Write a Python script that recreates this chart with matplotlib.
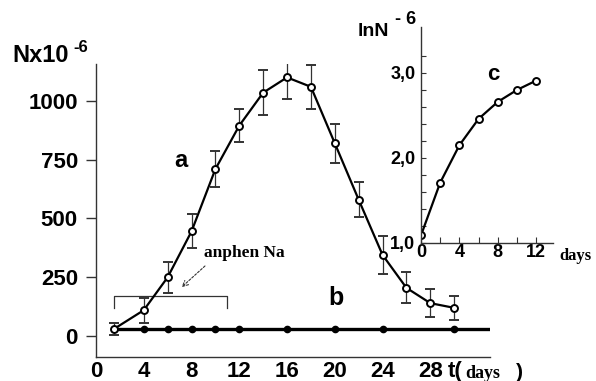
import numpy as np
import matplotlib
matplotlib.use("Agg")
from matplotlib import pyplot as plt
from matplotlib.ticker import FixedLocator

# curve a: cell count with error bars
days_a = [1.5, 4, 6, 8, 10, 12, 14, 16, 18, 20, 22, 24, 26, 28, 30]
count_a = [30, 110, 250, 445, 710, 895, 1035, 1100, 1060, 820, 580, 345, 205, 140, 120]
err_a = [27, 53, 66, 72, 77, 70, 95, 90, 94, 83, 74, 81, 66, 60, 51]

# curve b: with anphen Na
days_b = [1.5, 4, 6, 8, 10, 12, 16, 20, 24, 30, 33]
count_b = [30, 30, 30, 30, 30, 30, 30, 30, 30, 30, 30]
dots_b = [4, 6, 8, 10, 12, 16, 20, 24, 30]

# inset c: lnN
days_c = [0, 2, 4, 6, 8, 10, 12]
ln_c = [1.09, 1.71, 2.15, 2.46, 2.66, 2.80, 2.91]

y_ticks = [0, 250, 500, 750, 1000]
x_ticks = [0, 4, 8, 12, 16, 20, 24, 28]
c_yticks = [1.0, 2.0, 3.0]
c_ylabels = ["1,0", "2,0", "3,0"]
c_xticks = [0, 4, 8, 12]

W, H = 596, 381
SANS = "Liberation Sans"
SERIF = "Liberation Serif"

fig = plt.figure(figsize=(W / 100, H / 100), dpi=100)

def px(x0, y0, x1, y1):
    return [x0 / W, 1 - y1 / H, (x1 - x0) / W, (y1 - y0) / H]

ax = fig.add_axes(px(96, 64, 490, 357))
ax.set_xlim(0, 33)
ax.set_ylim(-89, 1157)
for s in ["top", "right"]:
    ax.spines[s].set_visible(False)
for s in ["left", "bottom"]:
    ax.spines[s].set_linewidth(1.0)
    ax.spines[s].set_color("#333333")

ax.errorbar(days_a, count_a, yerr=err_a, color="black", lw=1.6, ecolor="#333333",
            elinewidth=0.9, capsize=3.5, capthick=0.9, marker="o", ms=5,
            mfc="white", mec="black", mew=1.4, zorder=3)
ax.plot(days_b, count_b, color="black", lw=2.4, zorder=2)
ax.plot(dots_b, [count_b[0]] * len(dots_b), "o", color="black", ms=4.5, zorder=2)

ax.set_yticks(y_ticks)
ax.set_yticklabels([str(v) for v in y_ticks], fontfamily=SANS, fontweight="bold", fontsize=16)
ax.set_xticks(x_ticks)
ax.set_xticklabels([str(v) for v in x_ticks], fontfamily=SANS, fontweight="bold", fontsize=16)
ax.tick_params(axis="y", direction="out", length=7, width=1, pad=6, color="#333333")
ax.tick_params(axis="x", length=0, pad=3)

# bracket for anphen Na treatment
ax.plot([1.5, 1.5, 11, 11], [120, 170, 170, 120], color="#333333", lw=0.9)
ax.annotate("", xy=(7.0, 200), xytext=(9.3, 306),
            arrowprops=dict(arrowstyle="->", color="#333333", lw=0.8, ls=(0, (2, 1.5))))
ax.text(12.4, 353, "anphen Na", fontfamily=SERIF, fontweight="bold", fontsize=12.5,
        ha="center", va="center")
ax.text(7.1, 745, "a", fontfamily=SANS, fontweight="bold", fontsize=17, ha="center", va="center")
ax.text(20.1, 160, "b", fontfamily=SANS, fontweight="bold", fontsize=18, ha="center", va="center")

fig.text(12 / W, 1 - 56 / H, "Nx10", fontfamily=SANS, fontweight="bold", fontsize=17,
         ha="left", va="center")
fig.text(73 / W, 1 - 47 / H, "-6", fontfamily=SANS, fontweight="bold", fontsize=12,
         ha="left", va="center")
fig.text(448 / W, 1 - 372 / H, "t(", fontfamily=SANS, fontweight="bold", fontsize=16,
         ha="left", va="center")
fig.text(465 / W, 1 - 373 / H, "days", fontfamily=SERIF, fontweight="bold", fontsize=13,
         ha="left", va="center")
fig.text(516 / W, 1 - 372 / H, ")", fontfamily=SANS, fontweight="bold", fontsize=15,
         ha="left", va="center")

# inset c
ins = fig.add_axes(px(421, 27, 553, 243))
ins.patch.set_alpha(0)
ins.set_xlim(0, 13.75)
ins.set_ylim(1.0, 3.54)
for s in ["top", "right"]:
    ins.spines[s].set_visible(False)
for s in ["left", "bottom"]:
    ins.spines[s].set_linewidth(1.0)
    ins.spines[s].set_color("#333333")
ins.plot(days_c, ln_c, color="black", lw=1.6, marker="o", ms=5, mfc="white", mec="black", mew=1.4)
ins.set_yticks(c_yticks)
ins.set_yticklabels(c_ylabels, fontfamily=SANS, fontweight="bold", fontsize=13)
ins.yaxis.set_minor_locator(FixedLocator(np.arange(1.2, 3.4, 0.2)))
ins.set_xticks(c_xticks)
ins.set_xticklabels([str(v) for v in c_xticks], fontfamily=SANS, fontweight="bold", fontsize=13)
ins.xaxis.set_minor_locator(FixedLocator([2, 6, 10]))
ins.tick_params(axis="y", which="both", direction="in", length=3.5, width=0.8, pad=4, color="#333333")
ins.tick_params(axis="x", which="both", direction="in", length=4, width=0.8, pad=1, color="#333333")
ins.text(7.5, 2.98, "c", fontfamily=SANS, fontweight="bold", fontsize=16, ha="center", va="center")

fig.text(358 / W, 1 - 31 / H, "lnN", fontfamily=SANS, fontweight="bold", fontsize=14,
         ha="left", va="center")
fig.text(395 / W, 1 - 20 / H, "- 6", fontfamily=SANS, fontweight="bold", fontsize=13,
         ha="left", va="center")
fig.text(559 / W, 1 - 256 / H, "days", fontfamily=SERIF, fontweight="bold", fontsize=12,
         ha="left", va="center")

fig.savefig("out.png", dpi=100)
